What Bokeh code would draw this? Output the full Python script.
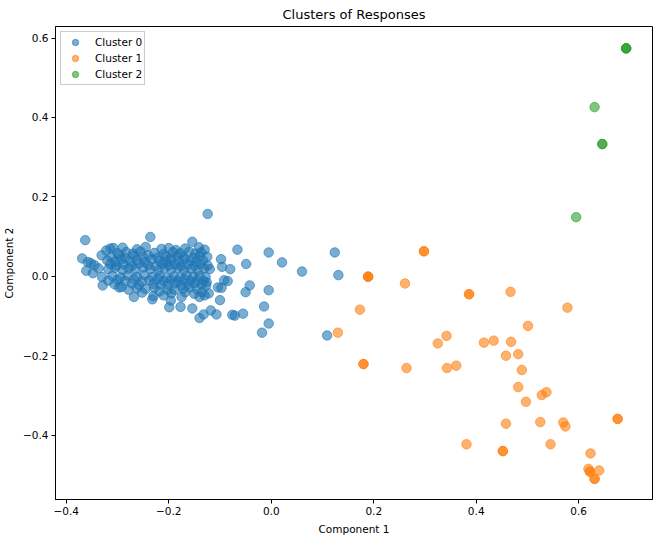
from bokeh.plotting import figure
from bokeh.models import FixedTicker, Legend, LegendItem
from bokeh.embed import file_html
from bokeh.resources import INLINE

# ---------------- data ----------------
c0_x = [-0.124, -0.363, -0.236, -0.154, -0.066, -0.005, 0.124, 0.021, 0.060, 0.131, 0.109,
        -0.369, -0.358, -0.352, -0.361, -0.348, -0.337, -0.329, -0.268, -0.232, -0.199, -0.177,
        -0.154, -0.175, -0.140, -0.132, -0.118, -0.107, -0.076, -0.071, -0.055, -0.014, -0.005,
        -0.018, -0.100, -0.050, -0.042, -0.005, -0.049, -0.098, -0.096, -0.080, -0.092, -0.085,
        -0.104, -0.097, -0.130, -0.314, -0.308, -0.322, -0.331, -0.297, -0.292, -0.278, -0.245,
        -0.216, -0.202, -0.189, -0.135, -0.130, -0.122, -0.127, -0.126,
        -0.290, -0.262, -0.245, -0.214, -0.200, -0.186, -0.168, -0.141,
        -0.300, -0.283, -0.270, -0.255, -0.228, -0.210, -0.192, -0.178, -0.160, -0.148, -0.137,
        -0.312, -0.296, -0.285, -0.268, -0.250, -0.240, -0.222, -0.205, -0.196, -0.183, -0.171,
        -0.152, -0.140, -0.125,
        -0.320, -0.305, -0.293, -0.276, -0.262, -0.247, -0.233, -0.218, -0.207, -0.195, -0.180,
        -0.170, -0.158, -0.146, -0.133,
        -0.345, -0.314, -0.302, -0.288, -0.272, -0.258, -0.240, -0.226, -0.212, -0.200, -0.188,
        -0.176, -0.163, -0.150, -0.138, -0.124,
        -0.318, -0.305, -0.290, -0.278, -0.265, -0.250, -0.236, -0.220, -0.208, -0.195, -0.182,
        -0.170, -0.156, -0.143, -0.131, -0.120,
        -0.330, -0.310, -0.294, -0.280, -0.262, -0.248, -0.232, -0.218, -0.204, -0.190, -0.178,
        -0.165, -0.152, -0.140, -0.128,
        -0.318, -0.300, -0.285, -0.268, -0.252, -0.238, -0.222, -0.210, -0.196, -0.182, -0.170,
        -0.158, -0.145, -0.132,
        -0.306, -0.272, -0.258, -0.230, -0.202, -0.188, -0.176, -0.162, -0.150, -0.136,
        -0.262, -0.228, -0.172, -0.160, -0.145,
        -0.252, -0.218, -0.195, -0.168, -0.150,
        -0.230, -0.210, -0.140,
        -0.196]
c0_y = [0.157, 0.091, 0.099, 0.087, 0.067, 0.060, 0.060, 0.035, 0.012, 0.003, -0.149,
        0.045, 0.036, 0.033, 0.014, 0.008, 0.020, -0.023, -0.052, -0.058, -0.078, -0.077,
        -0.081, -0.052, -0.105, -0.096, -0.086, -0.096, -0.097, -0.099, -0.094, -0.076, -0.119,
        -0.142, -0.060, -0.040, -0.023, -0.035, 0.031, 0.043, 0.024, 0.018, -0.010, -0.012,
        -0.028, -0.029, 0.067, 0.070, 0.071, 0.065, 0.053, -0.028, -0.027, -0.034, -0.032,
        -0.021, -0.034, -0.034, -0.040, -0.048, -0.043, -0.023, -0.015,
        0.072, 0.068, 0.074, 0.069, 0.071, 0.066, 0.070, 0.073,
        0.058, 0.061, 0.057, 0.062, 0.059, 0.056, 0.061, 0.058, 0.062, 0.057, 0.060,
        0.048, 0.052, 0.046, 0.051, 0.049, 0.053, 0.047, 0.050, 0.045, 0.052, 0.048,
        0.046, 0.051, 0.049,
        0.040, 0.037, 0.042, 0.038, 0.041, 0.036, 0.043, 0.039, 0.035, 0.041, 0.037,
        0.042, 0.038, 0.036, 0.040,
        0.028, 0.031, 0.027, 0.030, 0.026, 0.032, 0.028, 0.025, 0.031, 0.027, 0.030,
        0.025, 0.029, 0.026, 0.031, 0.027,
        0.018, 0.021, 0.016, 0.020, 0.017, 0.022, 0.018, 0.015, 0.020, 0.017, 0.021,
        0.016, 0.019, 0.015, 0.020, 0.018,
        -0.002, 0.001, -0.003, 0.002, -0.001, 0.003, -0.002, 0.001, -0.004, 0.000, -0.003,
        0.002, -0.001, 0.001, -0.002,
        -0.011, -0.009, -0.012, -0.008, -0.013, -0.010, -0.007, -0.012, -0.009, -0.013, -0.008,
        -0.011, -0.010, -0.012,
        -0.020, -0.018, -0.022, -0.019, -0.021, -0.018, -0.022, -0.020, -0.017, -0.021,
        -0.030, -0.029, -0.031, -0.028, -0.033,
        -0.041, -0.038, -0.043, -0.040, -0.044,
        -0.050, -0.048, -0.052,
        -0.061]

c1_x = [0.298, 0.298, 0.189, 0.189, 0.189, 0.261, 0.386, 0.386, 0.467, 0.173, 0.578,
        0.501, 0.130, 0.342, 0.325, 0.415, 0.434, 0.468, 0.458, 0.482, 0.180, 0.180,
        0.264, 0.343, 0.361, 0.489, 0.482, 0.497, 0.528, 0.537, 0.676, 0.676, 0.458,
        0.525, 0.570, 0.574, 0.381, 0.545, 0.452, 0.452, 0.623, 0.619, 0.622, 0.622,
        0.640, 0.631, 0.631]
c1_y = [0.063, 0.063, -0.001, -0.001, -0.001, -0.018, -0.045, -0.045, -0.039, -0.084, -0.079,
        -0.125, -0.142, -0.150, -0.169, -0.167, -0.162, -0.165, -0.200, -0.196, -0.221, -0.221,
        -0.231, -0.231, -0.225, -0.236, -0.279, -0.316, -0.299, -0.292, -0.359, -0.359, -0.371,
        -0.367, -0.368, -0.378, -0.423, -0.423, -0.440, -0.440, -0.446, -0.485, -0.492, -0.492,
        -0.489, -0.510, -0.510]

c2_x = [0.6926, 0.6926, 0.6926, 0.631, 0.646, 0.646, 0.595]
c2_y = [0.574, 0.574, 0.574, 0.426, 0.333, 0.333, 0.149]

series_names = ["Cluster 0", "Cluster 1", "Cluster 2"]
series_colors = ["#1f77b4", "#ff7f0e", "#2ca02c"]

x_ticks = [-0.4, -0.2, 0.0, 0.2, 0.4, 0.6]
y_ticks = [-0.4, -0.2, 0.0, 0.2, 0.4, 0.6]

FONT = "DejaVu Sans"

p = figure(
    frame_width=597, frame_height=473,
    x_range=(-0.421, 0.744), y_range=(-0.562, 0.629),
    output_backend="svg", toolbar_location=None,
    min_border_left=52, min_border_right=2, min_border_top=10, min_border_bottom=10,
    title="Clusters of Responses",
)
p.title.text_font = FONT
p.title.text_font_size = "13px"
p.title.text_font_style = "normal"
p.title.text_color = "#000000"
p.title.align = "center"
p.title.standoff = 9

p.xgrid.visible = False
p.ygrid.visible = False
p.outline_line_color = "#000000"
p.outline_line_width = 1
p.outline_line_alpha = 1

def fmt(v):
    s = f"{v:.1f}"
    return s.replace("-", "\u2212")

for ax, ticks, label in ((p.xaxis, x_ticks, "Component 1"), (p.yaxis, y_ticks, "Component 2")):
    ax.ticker = FixedTicker(ticks=ticks)
    ax.major_label_overrides = {t: fmt(t) for t in ticks}
    ax.axis_label = label
    ax.axis_label_text_font = FONT
    ax.axis_label_text_font_size = "10.5px"
    ax.axis_label_text_font_style = "normal"
    ax.axis_label_text_color = "#000000"
    ax.major_label_text_font = FONT
    ax.major_label_text_font_size = "10.5px"
    ax.major_label_text_color = "#000000"
    ax.axis_line_color = "#000000"
    ax.major_tick_line_color = "#000000"
    ax.major_tick_out = 4
    ax.major_tick_in = 0
    ax.minor_tick_line_color = None
    ax.major_label_standoff = 3
    ax.axis_label_standoff = 5

data = [(c0_x, c0_y), (c1_x, c1_y), (c2_x, c2_y)]
items = []
for (xs, ys), name, col in zip(data, series_names, series_colors):
    r = p.scatter(xs, ys, size=9.5, fill_color=col, fill_alpha=0.6,
                  line_color=col, line_alpha=0.6, line_width=1)
    items.append(LegendItem(label=name, renderers=[r]))

legend = Legend(items=items, location="top_left")
legend.label_text_font = FONT
legend.label_text_font_size = "10.5px"
legend.label_text_color = "#000000"
legend.border_line_color = "#cccccc"
legend.border_line_alpha = 1
legend.background_fill_alpha = 0.8
legend.padding = 2
legend.margin = 5
legend.spacing = 0
legend.glyph_width = 24
legend.glyph_height = 16
legend.label_height = 16
legend.label_standoff = 8
p.add_layout(legend)

open("out.html", "w").write(file_html(p, INLINE))
